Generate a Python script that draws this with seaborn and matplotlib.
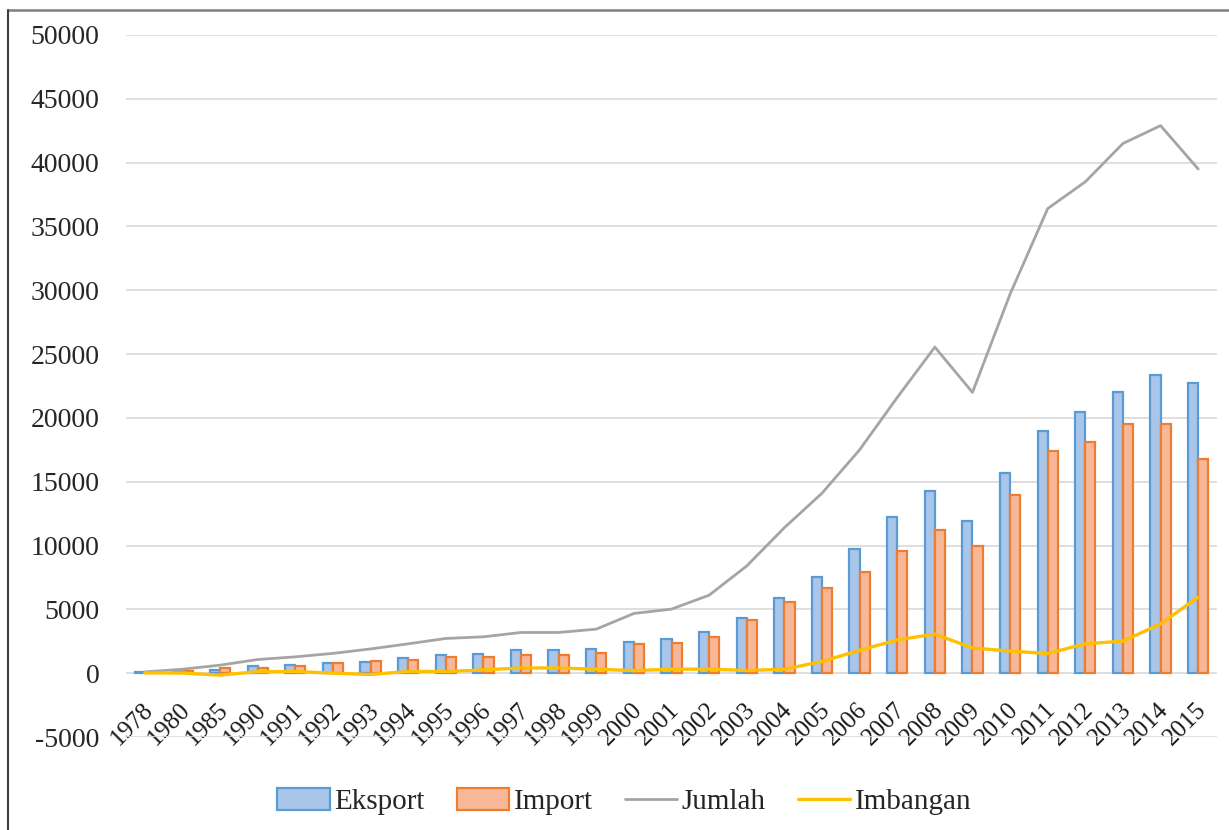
import numpy as np
import pandas as pd
import matplotlib
matplotlib.use("Agg")
import matplotlib.pyplot as plt
from matplotlib.lines import Line2D
from matplotlib.patches import Patch
from matplotlib.transforms import ScaledTranslation
import seaborn as sns

# Perdagangan Malaysia-China (juta USD)
tahun = ["1978", "1980", "1985", "1990", "1991", "1992", "1993", "1994", "1995",
         "1996", "1997", "1998", "1999", "2000", "2001", "2002", "2003", "2004",
         "2005", "2006", "2007", "2008", "2009", "2010", "2011", "2012", "2013",
         "2014", "2015"]
eksport = [60, 160, 235, 570, 680, 780, 890, 1200, 1410, 1540, 1800, 1800, 1930,
           2450, 2660, 3190, 4340, 5900, 7570, 9700, 12200, 14260, 11950, 15700,
           18970, 20430, 22000, 23350, 22730]
import_ = [40, 150, 390, 445, 550, 780, 990, 1070, 1280, 1280, 1390, 1390, 1620,
           2250, 2350, 2870, 4130, 5590, 6660, 7910, 9590, 11200, 9970, 13970,
           17430, 18130, 19490, 19490, 16770]
jumlah = [100, 310, 630, 1070, 1280, 1550, 1900, 2300, 2720, 2850, 3190, 3190, 3450,
          4680, 5020, 6110, 8400, 11400, 14100, 17500, 21600, 25550, 22000, 29700,
          36400, 38500, 41500, 42900, 39500]
imbangan = [20, 10, -150, 120, 130, 0, -100, 130, 130, 260, 410, 410, 310,
            200, 310, 320, 210, 310, 920, 1790, 2610, 3060, 1980, 1730,
            1540, 2300, 2510, 3860, 5960]

seri = ["Eksport", "Import"]
isi = {"Eksport": "#a9c5e9", "Import": "#f8b898"}
tepi = {"Eksport": "#5b9bd5", "Import": "#ed7d31"}
warna_jumlah = "#a5a5a5"
warna_imbangan = "#ffc000"

df = pd.DataFrame({
    "Tahun": tahun * 2,
    "Nilai": eksport + import_,
    "Seri": ["Eksport"] * len(tahun) + ["Import"] * len(tahun),
})

sns.set_theme(style="white")
plt.rcParams["font.family"] = ["Liberation Serif", "DejaVu Serif"]
plt.rcParams["axes.unicode_minus"] = False

fig = plt.figure(figsize=(12.29, 8.30), dpi=100)
ax = fig.add_axes([126 / 1229, 93 / 830, (1217 - 126) / 1229, (737 - 35) / 830])

sns.barplot(data=df, x="Tahun", y="Nilai", hue="Seri", hue_order=seri,
            order=tahun, palette=isi, width=0.54, saturation=1, ax=ax,
            legend=False, zorder=2)
for cont, s in zip(ax.containers, seri):
    for b in cont:
        b.set_edgecolor(tepi[s])
        b.set_linewidth(1.6)

x = np.arange(len(tahun))
sns.lineplot(x=x, y=jumlah, ax=ax, color=warna_jumlah, lw=2.0, zorder=3)
sns.lineplot(x=x, y=imbangan, ax=ax, color=warna_imbangan, lw=2.4, zorder=4)

ax.set_xlim(-0.5, len(tahun) - 0.5)
ax.set_ylim(-5000, 50000)
ax.set_yticks(np.arange(-5000, 50001, 5000))
ax.yaxis.grid(True, color="#d9d9d9", lw=1.2, zorder=0)
ax.xaxis.grid(False)
ax.set_axisbelow(True)
for sp in ax.spines.values():
    sp.set_visible(False)
ax.spines["bottom"].set_position(("data", 0))
ax.set_xlabel("")
ax.set_ylabel("")

ax.tick_params(axis="y", length=0, pad=19, labelsize=20, labelcolor="#262626")
ax.tick_params(axis="x", length=0, pad=24, labelsize=18, labelcolor="#1a1a1a")
ax.set_xticks(x)
ax.set_xticklabels(tahun, rotation=45, ha="right", va="center",
                   rotation_mode="anchor")
geser = ScaledTranslation(3.5 / 72, 0, fig.dpi_scale_trans)
for lab in ax.get_xticklabels():
    lab.set_transform(lab.get_transform() + geser)

handles = [
    Patch(facecolor=isi["Eksport"], edgecolor=tepi["Eksport"], lw=1.6, label="Eksport"),
    Patch(facecolor=isi["Import"], edgecolor=tepi["Import"], lw=1.6, label="Import"),
    Line2D([], [], color=warna_jumlah, lw=2.0, label="Jumlah"),
    Line2D([], [], color=warna_imbangan, lw=2.4, label="Imbangan"),
]
fig.legend(handles=handles, loc="center", bbox_to_anchor=(0.508, 0.034), ncol=4,
           frameon=False, fontsize=21, handlelength=1.8, handleheight=0.75,
           handletextpad=0.15, columnspacing=1.1)

# bingkai luar
fig.add_artist(Line2D([8 / 1229, 1.0], [1 - 10 / 830, 1 - 10 / 830],
                      transform=fig.transFigure, color="#7f7f7f", lw=1.8))
fig.add_artist(Line2D([8 / 1229, 8 / 1229], [0.0, 1 - 10 / 830],
                      transform=fig.transFigure, color="#404040", lw=1.5))

fig.savefig("out.png", dpi=100, facecolor="white")
